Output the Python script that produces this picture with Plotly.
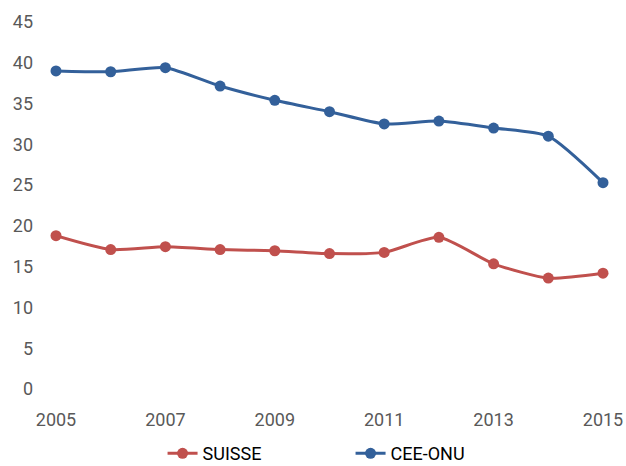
import plotly.graph_objects as go

years = [2005, 2006, 2007, 2008, 2009, 2010, 2011, 2012, 2013, 2014, 2015]
suisse = [18.8, 17.1, 17.45, 17.1, 16.95, 16.6, 16.75, 18.6, 15.35, 13.6, 14.2]
cee_onu = [39.0, 38.9, 39.4, 37.15, 35.4, 34.0, 32.5, 32.85, 32.0, 31.0, 25.3]
x_ticks = [2005, 2007, 2009, 2011, 2013, 2015]
y_ticks = [0, 5, 10, 15, 20, 25, 30, 35, 40, 45]

RED = "#C0504D"
BLUE = "#33609A"
FONT = "Roboto"

fig = go.Figure()
fig.add_trace(go.Scatter(
    x=years, y=suisse, name="SUISSE", mode="lines+markers",
    line=dict(color=RED, width=3, shape="spline", smoothing=0.6),
    marker=dict(color=RED, size=11), cliponaxis=False))
fig.add_trace(go.Scatter(
    x=years, y=cee_onu, name="CEE-ONU", mode="lines+markers",
    line=dict(color=BLUE, width=3, shape="spline", smoothing=0.6),
    marker=dict(color=BLUE, size=11), cliponaxis=False))

fig.update_layout(
    width=626, height=466,
    margin=dict(l=56, r=23, t=22, b=77, autoexpand=False),
    paper_bgcolor="white", plot_bgcolor="white",
    font=dict(family=FONT, size=18, color="#595959"),
    showlegend=True,
    legend=dict(orientation="h", x=0.5385, xanchor="center", y=-0.176, yanchor="middle",
                font=dict(family=FONT, size=18, color="#000000"),
                entrywidth=143, entrywidthmode="pixels"),
    xaxis=dict(range=[2005, 2015], tickvals=x_ticks, ticktext=[str(v) for v in x_ticks],
               showgrid=False, zeroline=False, showline=False, ticklabelstandoff=18,
               automargin=False),
    yaxis=dict(range=[0, 45], tickvals=y_ticks, showgrid=False, zeroline=False,
               showline=False, ticklabelstandoff=22, automargin=False),
)
fig.write_html(
    "out.html",
    config={"displayModeBar": False},
    post_script="document.body.style.margin='0';document.body.style.overflow='hidden';",
)
